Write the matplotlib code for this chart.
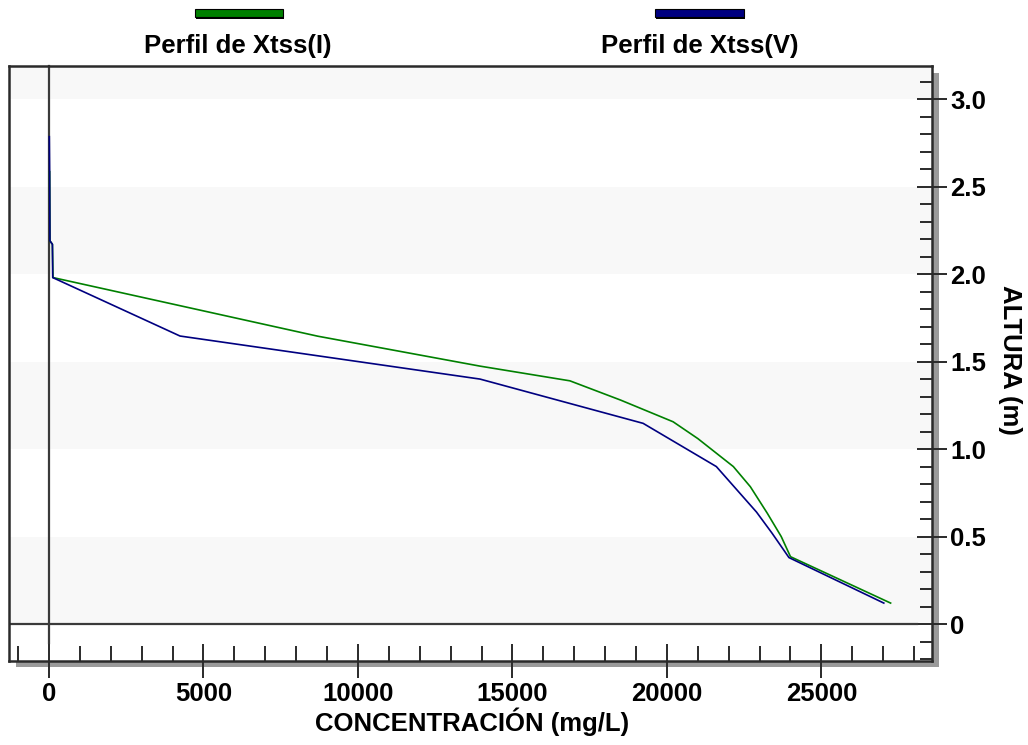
import matplotlib.pyplot as plt
from matplotlib.patches import Rectangle
from matplotlib.ticker import MultipleLocator, FixedLocator, FixedFormatter

plt.rcParams['font.family'] = ['Liberation Sans', 'DejaVu Sans']
plt.rcParams['font.weight'] = 'bold'

# perfil de Xtss(I) - verde
conc_i = [20, 30, 110, 130, 8700, 13950, 16860, 18500, 20200, 21000,
          22150, 22700, 23250, 23700, 24000, 27240]
alt_i = [2.585, 2.19, 2.17, 1.98, 1.645, 1.474, 1.39, 1.28, 1.156, 1.06,
         0.90, 0.785, 0.633, 0.50, 0.385, 0.12]

# perfil de Xtss(V) - azul
conc_v = [10, 20, 30, 110, 120, 4240, 13950, 19230, 21600, 22300,
          22900, 23400, 23950, 27020]
alt_v = [2.785, 2.585, 2.19, 2.17, 1.98, 1.646, 1.40, 1.147, 0.90, 0.76,
         0.64, 0.52, 0.38, 0.12]

x_labels = ['0', '5000', '10000', '15000', '20000', '25000']
x_major = [0, 5000, 10000, 15000, 20000, 25000]
y_labels = ['0', '0.5', '1.0', '1.5', '2.0', '2.5', '3.0']
y_major = [0, 0.5, 1.0, 1.5, 2.0, 2.5, 3.0]

green = '#008000'
navy = '#000080'
dark = '#2a2a2a'

W, H = 1028, 745
fig = plt.figure(figsize=(W / 100, H / 100), dpi=100)

def fx(px):
    return px / W

def fy(py):
    return 1 - py / H

left, right, top, bottom = 9, 932, 66, 661

# sombra del marco
fig.add_artist(Rectangle((fx(left + 7), fy(bottom + 6)), fx(right - left), fy(top + 7) - fy(bottom + 6),
                         transform=fig.transFigure, facecolor='#9a9a9a', edgecolor='none', zorder=0))

ax = fig.add_axes([fx(left), fy(bottom), fx(right) - fx(left), fy(top) - fy(bottom)])
ax.set_zorder(1)
ax.set_facecolor('white')

ax.set_xlim(-1295, 28580)
ax.set_ylim(-0.211, 3.189)

# bandas de fondo
for y0 in [0, 1.0, 2.0, 3.0]:
    ax.axhspan(y0, y0 + 0.5, color='#f8f8f8', zorder=0, lw=0)

# ejes en cero
ax.plot([0, 0], [-0.108, 3.189], color='#3a3a3a', lw=1.6, zorder=2, clip_on=False)
ax.plot([-1295, 28090], [0, 0], color='#3a3a3a', lw=1.6, zorder=2)

ax.plot(conc_i, alt_i, color=green, lw=1.2, zorder=3)
ax.plot(conc_v, alt_v, color=navy, lw=1.2, zorder=4)

for s in ax.spines.values():
    s.set_linewidth(1.8)
    s.set_color(dark)

# ticks eje x
ax.xaxis.set_major_locator(FixedLocator(x_major))
ax.xaxis.set_major_formatter(FixedFormatter(x_labels))
ax.xaxis.set_minor_locator(MultipleLocator(1000))
ax.tick_params(axis='x', which='major', direction='inout', length=24, width=1.4,
               color=dark, labelsize=18.5, pad=3)
ax.tick_params(axis='x', which='minor', direction='in', length=11, width=1.4, color=dark)

# ticks eje y (derecha)
ax.yaxis.tick_right()
ax.yaxis.set_label_position('right')
ax.yaxis.set_major_locator(FixedLocator(y_major))
ax.yaxis.set_major_formatter(FixedFormatter(y_labels))
ax.yaxis.set_minor_locator(MultipleLocator(0.1))
ax.tick_params(axis='y', which='major', direction='inout', length=22, width=1.4,
               color=dark, labelsize=18.5, pad=2)
ax.tick_params(axis='y', which='minor', direction='in', length=9, width=1.4, color=dark)

for lab in ax.get_xticklabels() + ax.get_yticklabels():
    lab.set_fontweight('bold')

fig.text(fx(472), fy(722), 'CONCENTRACIÓN (mg/L)', ha='center', va='center',
         fontsize=18.5, fontweight='bold')
fig.text(fx(1010), fy(360), 'ALTURA (m)', ha='center', va='center', rotation=-90,
         fontsize=18.5, fontweight='bold')

# leyenda superior
for x0, x1, col, label, cx in [(195, 283, green, 'Perfil de Xtss(I)', 238),
                               (655, 744, navy, 'Perfil de Xtss(V)', 700)]:
    fig.add_artist(Rectangle((fx(x0 + 1), fy(19)), fx(x1 - x0), fy(10) - fy(18),
                             transform=fig.transFigure, facecolor='black', edgecolor='none'))
    fig.add_artist(Rectangle((fx(x0), fy(17)), fx(x1 - x0), fy(9) - fy(17),
                             transform=fig.transFigure, facecolor=col, edgecolor='black', lw=0.8))
    fig.text(fx(cx), fy(46), label, ha='center', va='center', fontsize=18.5, fontweight='bold')

fig.savefig('out.png', dpi=100)
